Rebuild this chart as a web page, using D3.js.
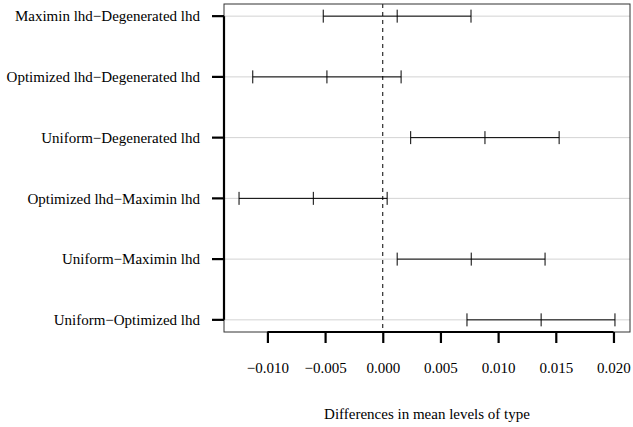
<!DOCTYPE html>
<html>
<head>
<meta charset="utf-8">
<script src="https://cdn.jsdelivr.net/npm/d3@7"></script>
<style>
  body { margin:0; background:#fff; }
  svg text { font-family: "Times New Roman", "Liberation Serif", Times, "DejaVu Serif", serif; fill:#000; }
</style>
</head>
<body>
<script>
// comparisons, top to bottom
var comparisons = ["Maximin lhd\u2212Degenerated lhd", "Optimized lhd\u2212Degenerated lhd", "Uniform\u2212Degenerated lhd",
                   "Optimized lhd\u2212Maximin lhd", "Uniform\u2212Maximin lhd", "Uniform\u2212Optimized lhd"];
var diffs = [0.00125, -0.00484, 0.00886, -0.00602, 0.00767, 0.01373];
var lower = [-0.00516, -0.01127, 0.00242, -0.01246, 0.00125, 0.0073];
var upper = [0.00765, 0.00159, 0.01529, 0.00038, 0.01407, 0.02013];
var xTicks = [-0.010, -0.005, 0.000, 0.005, 0.010, 0.015, 0.020];
var xTitle = "Differences in mean levels of type";

var W = 633, H = 427, box = {l:224, r:630, t:4, b:332};
var FONT = "'Times New Roman', 'Liberation Serif', Times, serif";

var lo = d3.min(lower), hi = d3.max(upper), pad = (hi - lo) * 0.04;
var x = d3.scaleLinear().domain([lo - pad, hi + pad]).range([box.l, box.r]);
var n = comparisons.length;
var y = d3.scaleLinear().domain([n + 0.2, 0.8]).range([box.t, box.b]);
// row i (0 = top) sits at level n - i
function rowY(i){ return y(n - i); }

var svg = d3.select("body").append("svg").attr("width", W).attr("height", H);

// grid lines
svg.append("g").selectAll("line").data(comparisons).enter().append("line")
  .attr("x1", box.l).attr("x2", box.r)
  .attr("y1", function(d,i){ return rowY(i); }).attr("y2", function(d,i){ return rowY(i); })
  .attr("stroke", "#d3d3d3").attr("stroke-width", 1);

// zero line
svg.append("line").attr("x1", x(0)).attr("x2", x(0)).attr("y1", box.t).attr("y2", box.b)
  .attr("stroke", "#000").attr("stroke-dasharray", "4,4").attr("stroke-width", 1);

// intervals
var bars = svg.append("g").selectAll("g").data(comparisons).enter().append("g")
  .attr("stroke", "#000").attr("stroke-width", 1);
bars.append("line")
  .attr("x1", function(d,i){ return x(lower[i]); }).attr("x2", function(d,i){ return x(upper[i]); })
  .attr("y1", function(d,i){ return rowY(i); }).attr("y2", function(d,i){ return rowY(i); });
[lower, diffs, upper].forEach(function(arr){
  bars.append("line")
    .attr("x1", function(d,i){ return x(arr[i]); }).attr("x2", function(d,i){ return x(arr[i]); })
    .attr("y1", function(d,i){ return rowY(i) - 6.5; }).attr("y2", function(d,i){ return rowY(i) + 6.5; });
});

// box
svg.append("rect").attr("x", box.l).attr("y", box.t).attr("width", box.r - box.l).attr("height", box.b - box.t)
  .attr("fill", "none").attr("stroke", "#333").attr("stroke-width", 1);

// bottom axis
var xAxis = d3.axisBottom(x).tickValues(xTicks).tickSize(11).tickPadding(19.5)
  .tickFormat(function(d){ return d3.format(".3f")(d).replace("-", "\u2212"); });
var gx = svg.append("g").attr("transform", "translate(0," + box.b + ")").call(xAxis)
  .attr("font-family", FONT).attr("font-size", 15);
gx.select(".domain").attr("d", "M" + x(xTicks[0]) + ",0H" + x(xTicks[xTicks.length-1])).attr("stroke-width", 2.2);
gx.selectAll(".tick line").attr("stroke-width", 2.2);

// left axis
var gy = svg.append("g").attr("transform", "translate(" + box.l + ",0)")
  .attr("font-family", FONT).attr("font-size", 15);
gy.append("line").attr("x1", 0).attr("x2", 0).attr("y1", rowY(0)).attr("y2", rowY(n-1))
  .attr("stroke", "#000").attr("stroke-width", 2.2);
gy.selectAll(".yt").data(comparisons).enter().append("line").attr("class","yt")
  .attr("x1", -12).attr("x2", 0)
  .attr("y1", function(d,i){ return rowY(i); }).attr("y2", function(d,i){ return rowY(i); })
  .attr("stroke", "#000").attr("stroke-width", 2.2);
gy.selectAll("text").data(comparisons).enter().append("text")
  .attr("x", -24).attr("y", function(d,i){ return rowY(i); }).attr("dy", "0.35em")
  .attr("text-anchor", "end").text(function(d){ return d; });

// axis title
svg.append("text").attr("x", (box.l + box.r)/2).attr("y", 414).attr("dy", "0.35em")
  .attr("font-family", FONT).attr("font-size", 15)
  .attr("text-anchor", "middle").text(xTitle);
</script>
</body>
</html>
